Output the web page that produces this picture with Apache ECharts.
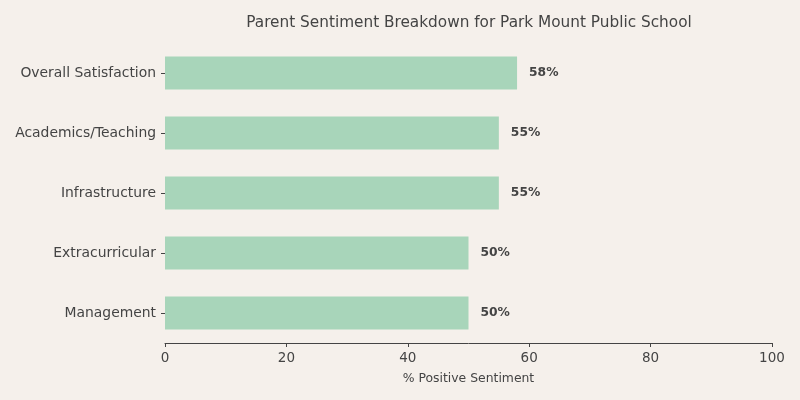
<!DOCTYPE html>
<html><head><meta charset="utf-8">
<script src="https://cdn.jsdelivr.net/npm/echarts@6/dist/echarts.min.js"></script>
<style>html,body{margin:0;padding:0;background:#f5f0eb;}#c{width:800px;height:400px;}</style>
</head><body><div id="c"></div>
<script>
const categories = ["Overall Satisfaction","Academics/Teaching","Infrastructure","Extracurricular","Management"];
const values = [58,55,55,50,50];
const xTicks = [0,20,40,60,80,100];
const chart = echarts.init(document.getElementById('c'));
const font = 'DejaVu Sans';
chart.setOption({
  backgroundColor:'#f5f0eb',
  animation:false,
  title:{text:'Parent Sentiment Breakdown for Park Mount Public School',left:464,top:11,textAlign:'center',
    textStyle:{fontFamily:font,fontSize:15.3,fontWeight:'normal',color:'#444444'}},
  grid:{left:165,right:28,top:43,height:300},
  xAxis:{type:'value',min:xTicks[0],max:xTicks[xTicks.length-1],interval:20,
    name:'% Positive Sentiment',nameLocation:'middle',nameGap:30,
    nameTextStyle:{fontFamily:font,fontSize:12.4,color:'#444444'},
    axisLine:{show:true,lineStyle:{color:'#444444',width:1}},
    axisTick:{show:true,length:4,lineStyle:{color:'#444444'}},
    axisLabel:{fontFamily:font,fontSize:13.5,color:'#444444',margin:8},
    splitLine:{show:false}},
  yAxis:{type:'category',data:categories,inverse:true,
    axisLine:{show:false},
    axisTick:{show:true,alignWithLabel:true,length:4,lineStyle:{color:'#444444'}},
    axisLabel:{fontFamily:font,fontSize:13.9,color:'#444444',margin:9,padding:[2,0,0,0]}},
  series:[{type:'bar',data:values,barWidth:33,itemStyle:{color:'#a8d5ba'},
    label:{show:true,position:'right',distance:12,formatter:p=>p.value+'%',
      fontFamily:font,fontSize:12.3,fontWeight:'bold',color:'#444444'}}]
});
</script></body></html>
